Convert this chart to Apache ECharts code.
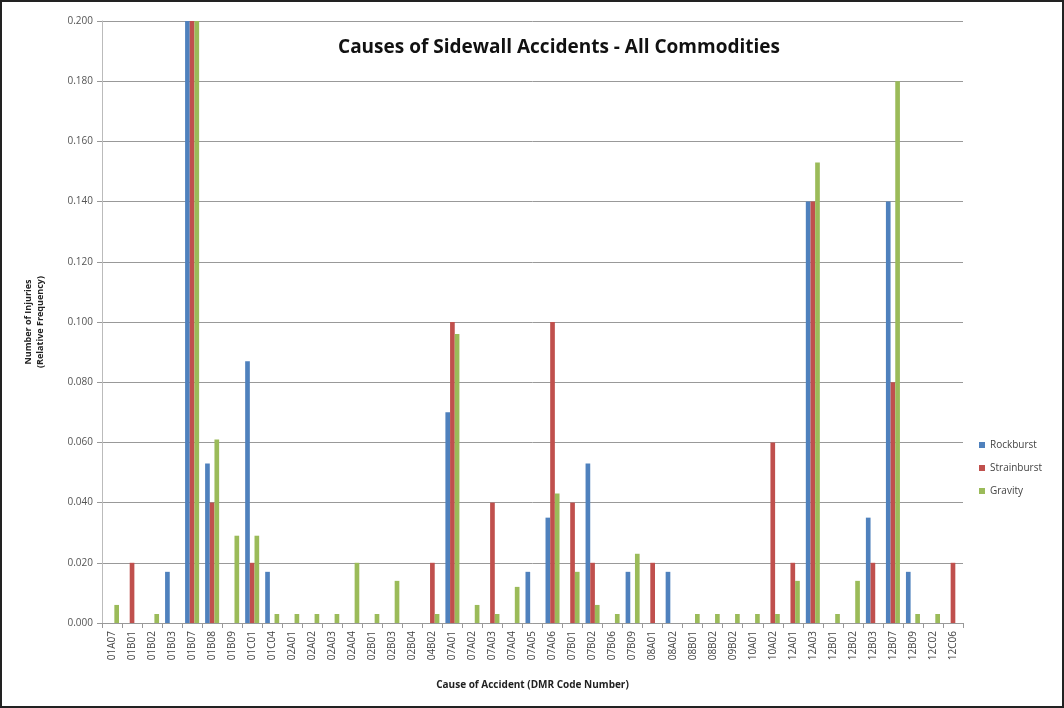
<!DOCTYPE html>
<html>
<head>
<meta charset="utf-8">
<script src="https://cdn.jsdelivr.net/npm/echarts@6/dist/echarts.min.js"></script>
<style>
    html, body { margin: 0; padding: 0; background: #fff; }
    #chart { width: 1064px; height: 708px; box-sizing: border-box; border: 2px solid #222; }
</style>
</head>
<body>
<div id="chart"></div>
<script>
var codes = ['01A07','01B01','01B02','01B03','01B07','01B08','01B09','01C01','01C04','02A01',
    '02A02','02A03','02A04','02B01','02B03','02B04','04B02','07A01','07A02','07A03',
    '07A04','07A05','07A06','07B01','07B02','07B06','07B09','08A01','08A02','08B01',
    '08B02','09B02','10A01','10A02','12A01','12A03','12B01','12B02','12B03','12B07',
    '12B09','12C02','12C06'];

var rockburst = [0,0,0,0.017,0.200,0.053,0,0.087,0.017,0,
    0,0,0,0,0,0,0,0.070,0,0,
    0,0.017,0.035,0,0.053,0,0.017,0,0.017,0,
    0,0,0,0,0,0.140,0,0,0.035,0.140,
    0.017,0,0];

var strainburst = [0,0.020,0,0,0.200,0.040,0,0.020,0,0,
    0,0,0,0,0,0,0.020,0.100,0,0.040,
    0,0,0.100,0.040,0.020,0,0,0.020,0,0,
    0,0,0,0.060,0.020,0.140,0,0,0.020,0.080,
    0,0,0.020];

var gravity = [0.006,0,0.003,0,0.200,0.061,0.029,0.029,0.003,0.003,
    0.003,0.003,0.020,0.003,0.014,0,0.003,0.096,0.006,0.003,
    0.012,0,0.043,0.017,0.006,0.003,0.023,0,0,0.003,
    0.003,0.003,0.003,0.003,0.014,0.153,0.003,0.014,0,0.180,
    0.003,0.003,0];

var seriesNames = ['Rockburst', 'Strainburst', 'Gravity'];
var colors = ['#4F81BD', '#C0504D', '#9BBB59'];

var chart = echarts.init(document.getElementById('chart'));

function bar(name, data, color) {
    return {
        name: name,
        type: 'bar',
        data: data,
        barGap: '0%',
        barCategoryGap: '30%',
        itemStyle: { color: color },
        emphasis: { disabled: true }
    };
}

chart.setOption({
    animation: false,
    color: colors,
    title: {
        text: 'Causes of Sidewall Accidents - All Commodities',
        left: 552,
        textAlign: 'center',
        top: 31,
        textStyle: { fontFamily: 'Open Sans', fontSize: 19, fontWeight: 'bold', color: '#111' }
    },
    legend: {
        orient: 'vertical',
        left: 972,
        top: 433,
        itemWidth: 6,
        itemHeight: 6,
        itemGap: 13,
        icon: 'rect',
        textStyle: { fontFamily: 'Open Sans', fontSize: 10, color: '#444' },
        data: seriesNames
    },
    grid: { left: 100, right: 99, top: 19, bottom: 83 },
    xAxis: {
        type: 'category',
        data: codes,
        name: 'Cause of Accident (DMR Code Number)',
        nameLocation: 'middle',
        nameGap: 57,
        nameTextStyle: { fontFamily: 'Open Sans', fontSize: 10, fontWeight: 'bold', color: '#222' },
        axisLine: { lineStyle: { color: '#999' } },
        axisTick: { show: true, lineStyle: { color: '#999' } },
        axisLabel: { rotate: 90, interval: 0, fontFamily: 'Open Sans', fontSize: 10, color: '#444', margin: 8 }
    },
    yAxis: {
        type: 'value',
        min: 0,
        max: 0.2,
        interval: 0.02,
        name: 'Number of Injuries\n(Relative Frequency)',
        nameLocation: 'middle',
        nameGap: 56,
        nameTextStyle: { fontFamily: 'Open Sans', fontSize: 9, fontWeight: 'bold', color: '#222', lineHeight: 12 },
        axisLine: { show: true, lineStyle: { color: '#bbb' } },
        axisTick: { show: true, length: 5, lineStyle: { color: '#999' } },
        splitLine: { lineStyle: { color: '#999' } },
        axisLabel: {
            fontFamily: 'Open Sans', fontSize: 10, color: '#555', margin: 9,
            formatter: function (v) { return v.toFixed(3); }
        }
    },
    series: [
        bar(seriesNames[0], rockburst, colors[0]),
        bar(seriesNames[1], strainburst, colors[1]),
        bar(seriesNames[2], gravity, colors[2])
    ]
});
</script>
</body>
</html>
